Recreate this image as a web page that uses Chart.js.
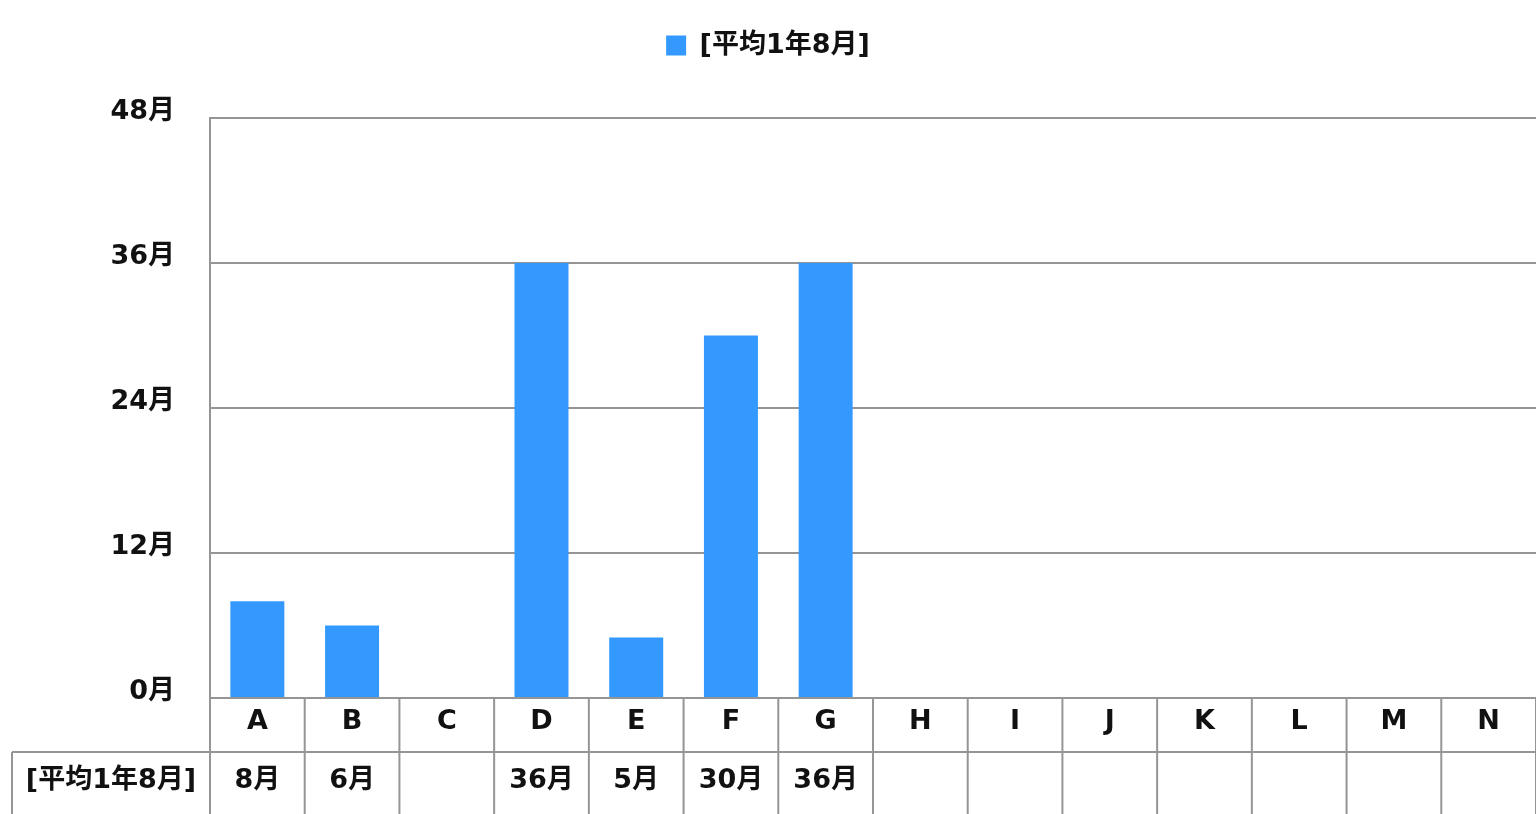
<!DOCTYPE html>
<html>
<head>
<meta charset="utf-8">
<script src="https://cdn.jsdelivr.net/npm/chart.js@4.4.0/dist/chart.umd.min.js"></script>
<style>
    body { margin: 0; background: #fff; }
    #box { width: 1536px; height: 814px; }
</style>
</head>
<body>
<div id="box"><canvas id="grafico"></canvas></div>
<script>
var categorias = ['A', 'B', 'C', 'D', 'E', 'F', 'G', 'H', 'I', 'J', 'K', 'L', 'M', 'N'];
var valores = [8, 6, null, 36, 5, 30, 36, null, null, null, null, null, null, null];
var nomeSerie = '[平均1年8月]';
var ticksY = [0, 12, 24, 36, 48];
var sufixo = '月';

var fonte = '"DejaVu Sans", "Noto Sans CJK JP", sans-serif';
var corLinha = '#959595';

// tabela de valores abaixo do eixo x
const tabela = {
    id: 'tabela',
    afterDraw(chart) {
        const ctx = chart.ctx;
        const x = chart.scales.x;
        const area = chart.chartArea;
        const colW = x.width / categorias.length;
        const linhaTopo = area.bottom + 54;
        const fim = chart.height;

        ctx.save();
        ctx.strokeStyle = corLinha;
        ctx.lineWidth = 2;
        ctx.beginPath();
        ctx.moveTo(12, linhaTopo);
        ctx.lineTo(chart.width, linhaTopo);
        ctx.moveTo(12, linhaTopo);
        ctx.lineTo(12, fim);
        for (var i = 0; i <= categorias.length; i++) {
            var px = x.left + i * colW;
            ctx.moveTo(px, area.bottom);
            ctx.lineTo(px, fim);
        }
        ctx.stroke();

        ctx.fillStyle = '#111';
        ctx.font = 'bold 27px ' + fonte;
        ctx.textAlign = 'center';
        ctx.textBaseline = 'middle';
        var meioY = linhaTopo + 29;
        ctx.fillText(nomeSerie, (12 + x.left) / 2, meioY);
        valores.forEach((v, i) => {
            if (v == null) return;
            ctx.fillText(v + sufixo, x.getPixelForValue(i), meioY);
        });
        ctx.restore();
    }
};

const ctx = document.getElementById('grafico');

const config = {
    type: 'bar',
    data: {
        labels: categorias,
        datasets: [{
            label: nomeSerie,
            data: valores,
            backgroundColor: '#3399ff',
            borderWidth: 0,
            categoryPercentage: 1,
            barPercentage: 0.57
        }]
    },
    options: {
        responsive: true,
        maintainAspectRatio: false,
        animation: false,
        layout: { padding: { top: 22, left: 0, right: 0, bottom: 0 } },
        plugins: {
            legend: {
                position: 'top',
                labels: {
                    boxWidth: 20,
                    boxHeight: 20,
                    padding: 10,
                    color: '#111',
                    font: { family: fonte, size: 27, weight: 'bold' }
                }
            },
            tooltip: { enabled: false }
        },
        scales: {
            x: {
                grid: { display: false, drawTicks: false },
                border: { display: false },
                ticks: {
                    padding: 8,
                    color: '#111',
                    font: { family: fonte, size: 27, weight: 'bold' }
                },
                afterFit: function (scale) { scale.height = 116; }
            },
            y: {
                min: 0,
                max: 48,
                afterBuildTicks: function (scale) {
                    scale.ticks = ticksY.map(v => ({ value: v }));
                },
                grid: { color: corLinha, lineWidth: 2, drawTicks: false },
                border: { display: true, color: corLinha, width: 2 },
                ticks: {
                    padding: 35,
                    labelOffset: -6,
                    color: '#111',
                    font: { family: fonte, size: 27, weight: 'bold' },
                    callback: function (v) { return v + sufixo; }
                },
                afterFit: function (scale) { scale.width = 210; }
            }
        }
    },
    plugins: [tabela]
};

var grafico = new Chart(ctx, config);

// espaco extra abaixo da legenda
var fitOriginal = grafico.legend.fit;
grafico.legend.fit = function () {
    fitOriginal.call(this);
    this.height += 49;
};
grafico.update();
</script>
</body>
</html>
